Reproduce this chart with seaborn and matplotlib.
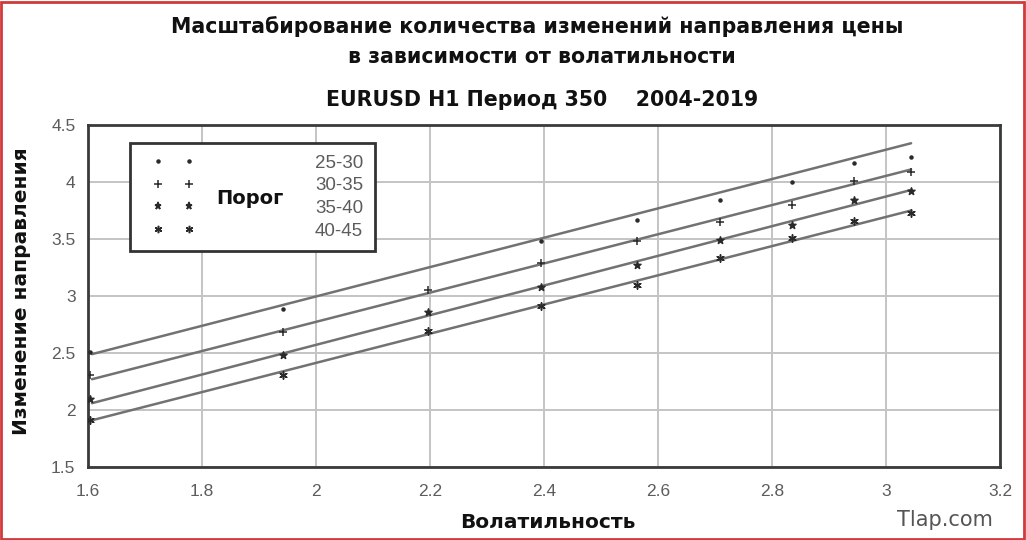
import numpy as np
import pandas as pd
import matplotlib
matplotlib.use("Agg")
import matplotlib.pyplot as plt
import seaborn as sns
from matplotlib.lines import Line2D
from matplotlib.patches import Rectangle
from matplotlib.legend_handler import HandlerTuple

# ---------------- data ----------------
volatility = [1.604, 1.942, 2.196, 2.395, 2.563, 2.709, 2.835, 2.944, 3.044]
changes_25_30 = [2.51, 2.89, np.nan, 3.48, 3.67, 3.84, 4.00, 4.17, 4.22]
changes_30_35 = [2.31, 2.68, 3.05, 3.29, 3.48, 3.65, 3.80, 4.01, 4.09]
changes_35_40 = [2.10, 2.48, 2.86, 3.08, 3.27, 3.49, 3.62, 3.84, 3.92]
changes_40_45 = [1.91, 2.31, 2.69, 2.91, 3.10, 3.33, 3.51, 3.66, 3.73]

fit_x = [1.607, 3.044]
fit_25_30 = [2.49, 4.34]
fit_30_35 = [2.27, 4.11]
fit_35_40 = [2.06, 3.93]
fit_40_45 = [1.91, 3.75]

thresholds = ["25-30", "30-35", "35-40", "40-45"]
x_ticks = [1.6, 1.8, 2.0, 2.2, 2.4, 2.6, 2.8, 3.0, 3.2]
y_ticks = [1.5, 2.0, 2.5, 3.0, 3.5, 4.0, 4.5]

title_1 = "Масштабирование количества изменений направления цены"
title_2 = "в зависимости от волатильности"
title_3 = "EURUSD H1 Период 350    2004-2019"
x_label = "Волатильность"
y_label = "Изменение направления"
legend_title = "Порог"
watermark = "Tlap.com"

points = pd.DataFrame({
    "x": volatility * 4,
    "y": changes_25_30 + changes_30_35 + changes_35_40 + changes_40_45,
    "series": sum([[t] * len(volatility) for t in thresholds], []),
})
fits = pd.DataFrame({
    "x": fit_x * 4,
    "y": fit_25_30 + fit_30_35 + fit_35_40 + fit_40_45,
    "series": sum([[t] * len(fit_x) for t in thresholds], []),
})

# ---------------- style ----------------
sns.set_theme(style="white")
plt.rcParams["font.family"] = ["Liberation Sans", "DejaVu Sans"]

fig = plt.figure(figsize=(10.26, 5.40), dpi=100)
ax = fig.add_axes([88 / 1026, 1 - 467 / 540, 912 / 1026, 342 / 540])

line_color = "#727272"
mark_color = "#2a2a2a"

sns.lineplot(data=fits, x="x", y="y", hue="series",
             palette=[line_color] * 4, linewidth=1.8, legend=False, ax=ax, zorder=3)

marker_map = {"25-30": ".", "30-35": "+", "35-40": "*", "40-45": (6, 2, 0)}
size_map = {"25-30": 18, "30-35": 30, "35-40": 28, "40-45": 28}
for t in thresholds:
    sub = points[points["series"] == t]
    sns.scatterplot(data=sub, x="x", y="y", marker=marker_map[t], s=size_map[t],
                    color=mark_color, edgecolor=mark_color, linewidth=1.1,
                    legend=False, ax=ax, zorder=4)

ax.set_xlim(1.6, 3.2)
ax.set_ylim(1.5, 4.5)
ax.set_xticks(x_ticks)
ax.set_yticks(y_ticks)
ax.set_xticklabels([f"{v:g}" for v in x_ticks])
ax.set_yticklabels([f"{v:g}" for v in y_ticks])
ax.tick_params(axis="both", length=0, labelsize=12.5, labelcolor="#5c5c5c")
ax.tick_params(axis="x", pad=12)
ax.tick_params(axis="y", pad=9)
ax.grid(True, color="#c4c4c4", linewidth=1.4)
ax.set_axisbelow(True)
for sp in ax.spines.values():
    sp.set_visible(True)
    sp.set_color("#3a3a3a")
    sp.set_linewidth(2.0)
ax.set_xlabel("")
ax.set_ylabel("")

# ---------------- legend ----------------
handles = []
for t in thresholds:
    kw = dict(ls="none", marker=marker_map[t], color=mark_color,
              markersize=np.sqrt(size_map[t]), markeredgewidth=1.1)
    handles.append((Line2D([], [], **kw), Line2D([], [], **kw)))
leg = ax.legend(handles, thresholds,
                handler_map={tuple: HandlerTuple(ndivide=5, pad=0)},
                handlelength=8.5, handletextpad=0.75, borderpad=0.62,
                labelspacing=0.3, loc="upper left",
                bbox_to_anchor=(0.046, 0.948), borderaxespad=0,
                frameon=True, fancybox=False, fontsize=13.5,
                labelcolor="#5c5c5c", framealpha=1)
leg.get_frame().set_edgecolor("#333333")
leg.get_frame().set_linewidth(2.0)
ax.text(0.178, 0.785, legend_title, transform=ax.transAxes, ha="center",
        va="center", fontsize=14, fontweight="bold", color="#111111",
        family=["DejaVu Sans"], zorder=10)

# ---------------- texts ----------------
tfont = dict(family=["DejaVu Sans"], fontweight="bold", color="#111111")
fig.text(0.524, 1 - 27 / 540, title_1, ha="center", va="center", fontsize=14.8, **tfont)
fig.text(0.528, 1 - 57 / 540, title_2, ha="center", va="center", fontsize=14.8, **tfont)
fig.text(0.528, 1 - 100 / 540, title_3, ha="center", va="center", fontsize=14.8, **tfont)
fig.text(548 / 1026, 1 - 522 / 540, x_label, ha="center", va="center", fontsize=14.5, **tfont)
fig.text(22 / 1026, 1 - 291 / 540, y_label, ha="center", va="center", rotation=90,
         fontsize=14.5, **tfont)
fig.text(945 / 1026, 1 - 520 / 540, watermark, ha="center", va="center",
         fontsize=15, color="#555555", family=["DejaVu Sans"])

fig.patches.append(Rectangle((0.001, 0.002), 0.997, 0.995, transform=fig.transFigure,
                             fill=False, edgecolor="#d03a3a", linewidth=2.0))

fig.savefig("out.png", dpi=100)
